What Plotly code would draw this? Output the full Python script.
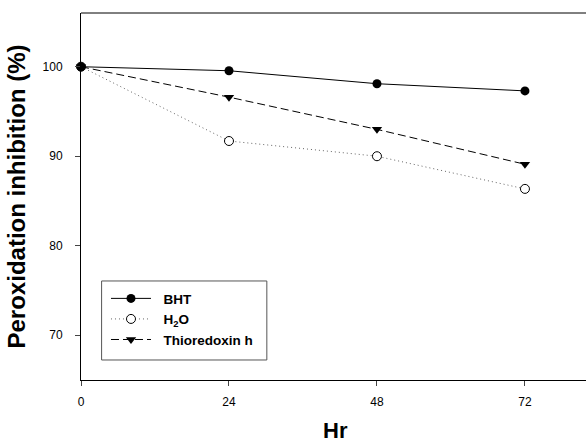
import plotly.graph_objects as go

hours = [0, 24, 48, 72]
bht = [100.0, 99.55, 98.1, 97.3]
h2o = [100.0, 91.7, 90.0, 86.35]
thio = [100.0, 96.6, 93.0, 89.1]
x_ticks = [0, 24, 48, 72]
y_ticks = [70, 80, 90, 100]

FONT = "Liberation Sans, Arial, sans-serif"
PAD = "&nbsp;&nbsp;"

fig = go.Figure()
fig.add_trace(go.Scatter(x=hours, y=h2o, name=PAD + "H<sub>2</sub>O", mode="lines+markers",
                         line=dict(color="#666666", width=1, dash="1px,3px"),
                         marker=dict(symbol="circle", size=9, color="white",
                                     line=dict(color="black", width=1)),
                         cliponaxis=False, legendrank=2))
fig.add_trace(go.Scatter(x=hours, y=thio, name=PAD + "Thioredoxin h", mode="lines+markers",
                         line=dict(color="black", width=1, dash="8px,4px"),
                         marker=dict(symbol="triangle-down", size=9, color="black"),
                         cliponaxis=False, legendrank=3))
fig.add_trace(go.Scatter(x=hours, y=bht, name=PAD + "BHT", mode="lines+markers",
                         line=dict(color="black", width=1, dash="solid"),
                         marker=dict(symbol="circle", size=9, color="black"),
                         cliponaxis=False, legendrank=1))

# top frame line (right side runs off the picture)
fig.add_shape(type="line", xref="paper", yref="paper", x0=0, x1=1.05, y0=1, y1=1,
              line=dict(color="black", width=1))
# legend frame
fig.add_shape(type="rect", xref="paper", yref="paper", x0=0.0408, x1=0.368,
              y0=0.0545, y1=0.2698, line=dict(color="#555555", width=1),
              fillcolor="white", layer="above")

fig.add_annotation(text="<b>Hr</b>", xref="paper", yref="paper", x=0.504, y=-0.177,
                   xanchor="center", yanchor="bottom", showarrow=False,
                   font=dict(size=22, family=FONT, color="black"))

fig.update_layout(
    width=586, height=442,
    margin=dict(l=81, r=0, t=13, b=62),
    plot_bgcolor="white", paper_bgcolor="white",
    font=dict(family=FONT, color="black", size=12),
    showlegend=True,
    legend=dict(x=0.0495, y=0.264, xanchor="left", yanchor="top",
                borderwidth=0, bgcolor="rgba(0,0,0,0)",
                font=dict(size=13.5, family=FONT, weight="bold"),
                itemwidth=40, traceorder="normal"),
    xaxis=dict(range=[0, 81.9], tickvals=x_ticks, ticks="outside", ticklen=5,
               showline=True, linecolor="black", linewidth=1, showgrid=False,
               zeroline=False, ticklabelstandoff=6),
    yaxis=dict(range=[65, 106], tickvals=y_ticks, ticks="outside", ticklen=5,
               showline=True, linecolor="black", linewidth=1, showgrid=False,
               zeroline=False, ticklabelstandoff=10,
               title=dict(text="<b>Peroxidation inhibition (%)</b>", font=dict(size=24),
                          standoff=10)),
)

fig.write_html("out.html",
               config={"displayModeBar": False},
               post_script="document.body.style.margin='0';"
                           "document.body.style.overflow='hidden';")
